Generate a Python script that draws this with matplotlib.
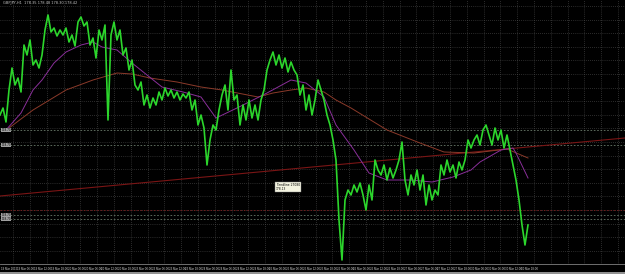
import numpy as np
import matplotlib
matplotlib.use("Agg")
import matplotlib.pyplot as plt

# price closes, one per bar (H1)
closes = [
    178.85, 178.92, 178.78, 179.10, 179.32, 179.15, 179.22, 179.08, 179.55, 179.45,
    179.60, 179.35, 179.40, 179.32, 179.45, 179.70, 179.85, 179.68, 179.72, 179.64,
    179.70, 179.65, 179.72, 179.58, 179.65, 179.54, 179.78, 179.83, 179.74, 179.78,
    179.55, 179.62, 179.42, 179.70, 179.60, 179.75, 178.80, 179.65, 179.78, 179.60,
    179.70, 179.45, 179.52, 179.30, 179.40, 179.15, 179.10, 179.18, 178.95, 179.05,
    178.92, 179.02, 178.95, 179.08, 179.00, 179.12, 179.04, 179.10, 179.02, 179.08,
    179.00, 179.06, 179.02, 179.08, 178.90, 179.00, 178.75, 178.85, 178.72, 178.35,
    178.60, 178.75, 178.70, 178.90, 179.05, 179.15, 178.90, 179.30, 179.00, 179.05,
    178.75, 178.95, 178.80, 179.00, 178.82, 178.95, 178.80, 179.00, 179.10, 179.30,
    179.40, 179.48, 179.35, 179.45, 179.32, 179.42, 179.28, 179.38, 179.30, 179.25,
    179.05, 179.15, 178.90, 179.05, 178.85, 179.00, 179.20, 179.10, 179.00, 178.85,
    178.75, 178.60, 178.40, 177.80, 177.40, 178.00, 178.10, 178.05, 178.15, 178.08,
    178.17, 178.05, 177.90, 178.15, 178.00, 178.40, 178.30, 178.25, 178.35, 178.20,
    178.32, 178.22, 178.30, 178.40, 178.58, 178.20, 178.05, 178.25, 178.15, 178.30,
    178.10, 178.25, 177.95, 178.15, 178.00, 178.10, 178.05, 178.35, 178.25, 178.40,
    178.28, 178.35, 178.22, 178.38, 178.30, 178.40, 178.60, 178.52, 178.60, 178.65,
    178.55, 178.70, 178.75, 178.65, 178.55, 178.72, 178.60, 178.70, 178.52, 178.65,
    178.50, 178.35, 178.20, 178.00, 177.75, 177.55, 177.75,
]

# moving averages (sampled bars)
ma_fast_bars = [2, 7, 11, 14, 18, 22, 27, 31, 34, 39, 44, 49, 54, 61, 67, 72, 79,
                89, 97, 102, 108, 112, 118, 123, 129, 137, 144, 151, 157, 160, 167,
                171, 172, 176]
ma_fast = [178.70, 178.87, 179.10, 179.20, 179.37, 179.48, 179.55, 179.58, 179.53,
           179.50, 179.37, 179.25, 179.13, 179.08, 179.03, 178.82, 178.92, 179.07,
           179.20, 179.17, 179.03, 178.75, 178.50, 178.27, 178.20, 178.20, 178.18,
           178.23, 178.30, 178.38, 178.50, 178.52, 178.47, 178.22]

ma_slow_bars = [3, 11, 22, 31, 39, 44, 50, 59, 67, 74, 86, 91, 97, 102, 108, 112,
                117, 129, 140, 148, 158, 169, 176]
ma_slow = [178.72, 178.90, 179.10, 179.20, 179.27, 179.26, 179.22, 179.18, 179.13,
           179.10, 179.03, 179.07, 179.10, 179.12, 179.08, 179.00, 178.92, 178.70,
           178.57, 178.48, 178.47, 178.51, 178.42]

trend_bars = [0, 208.3]
trend_prices = [178.04, 178.62]

hlines_grey = [178.70, 178.55, 177.85, 177.81]
hline_red = 177.90

time_labels = ["19 Mar 2015", "19 Mar 06:00", "19 Mar 12:00", "19 Mar 18:00",
               "20 Mar 00:00", "20 Mar 06:00", "20 Mar 12:00", "20 Mar 18:00",
               "23 Mar 00:00", "23 Mar 06:00", "23 Mar 12:00", "23 Mar 18:00",
               "24 Mar 00:00", "24 Mar 06:00", "24 Mar 12:00", "24 Mar 18:00",
               "25 Mar 00:00", "25 Mar 06:00", "25 Mar 12:00", "25 Mar 18:00",
               "26 Mar 00:00", "26 Mar 06:00", "26 Mar 12:00", "26 Mar 18:00",
               "27 Mar 00:00", "27 Mar 06:00", "27 Mar 12:00", "27 Mar 18:00",
               "30 Mar 00:00", "30 Mar 06:00", "30 Mar 12:00", "30 Mar 18:00"]

fig = plt.figure(figsize=(6.25, 2.74), dpi=100, facecolor="black")
ax = fig.add_axes([0, 10 / 274, 1, 264 / 274])
ax.set_facecolor("black")
ax.set_xlim(0, 625 / 3)
ax.set_ylim(177.36, 180.00)

# grid
for gx in np.arange(4.4, 210, 5.6):
    ax.axvline(gx, color="#555555", lw=0.5, ls=(0, (1, 2)), zorder=0)
for gy in np.arange(179.94, 177.35, -0.136):
    ax.axhline(gy, color="#555555", lw=0.5, ls=(0, (1, 2)), zorder=0)

for hy in hlines_grey:
    ax.axhline(hy, color="#6a7a6a", lw=0.6, ls=(0, (2, 2)), zorder=1)
ax.axhline(hline_red, color="#7a1f1f", lw=0.6, ls=(0, (2, 2)), zorder=1)

ax.plot(trend_bars, trend_prices, color="#7a1515", lw=0.8, zorder=2)
ax.plot(ma_slow_bars, ma_slow, color="#8b3a2a", lw=0.7, zorder=2)
ax.plot(ma_fast_bars, ma_fast, color="#8a2f9a", lw=0.7, zorder=2)

bars = np.arange(len(closes))
ax.plot(bars, closes, color="#2cd62c", lw=1.2, zorder=3)

for hy in hlines_grey:
    ax.text(0.5, hy, "178.70", fontsize=2, color="black", va="center",
            bbox=dict(boxstyle="square,pad=0.1", fc="#a0a0a0", ec="none"))

ax.text(92, 178.13, "Trendline 27080\n178.13", fontsize=2.2, color="black",
        va="center", ha="left", linespacing=1.2,
        bbox=dict(boxstyle="square,pad=0.3", fc="#f4f4e0", ec="#808080", lw=0.3))

ax.text(0.005, 0.995, "GBPJPY,H1  178.35 178.48 178.30 178.42", transform=ax.transAxes,
        fontsize=2.6, color="#c0c0c0", va="top", ha="left")

for s in ax.spines.values():
    s.set_visible(False)
ax.set_xticks([])
ax.set_yticks([])

# time axis labels
for k, lab in enumerate(time_labels):
    xb = 4.4 + 5.6 * k - 4.2
    fig.text((xb * 3) / 625, 5 / 274, lab, fontsize=2.05, color="#d0d0d0",
             family="Liberation Sans", ha="left", va="center")
fig.add_artist(plt.Line2D([0, 1], [10 / 274, 10 / 274], color="#808080", lw=0.6))
fig.add_artist(plt.Line2D([0, 1], [0.6 / 274, 0.6 / 274], color="#b0b0b0", lw=1.2))

fig.savefig("out.png", dpi=100, facecolor="black")
